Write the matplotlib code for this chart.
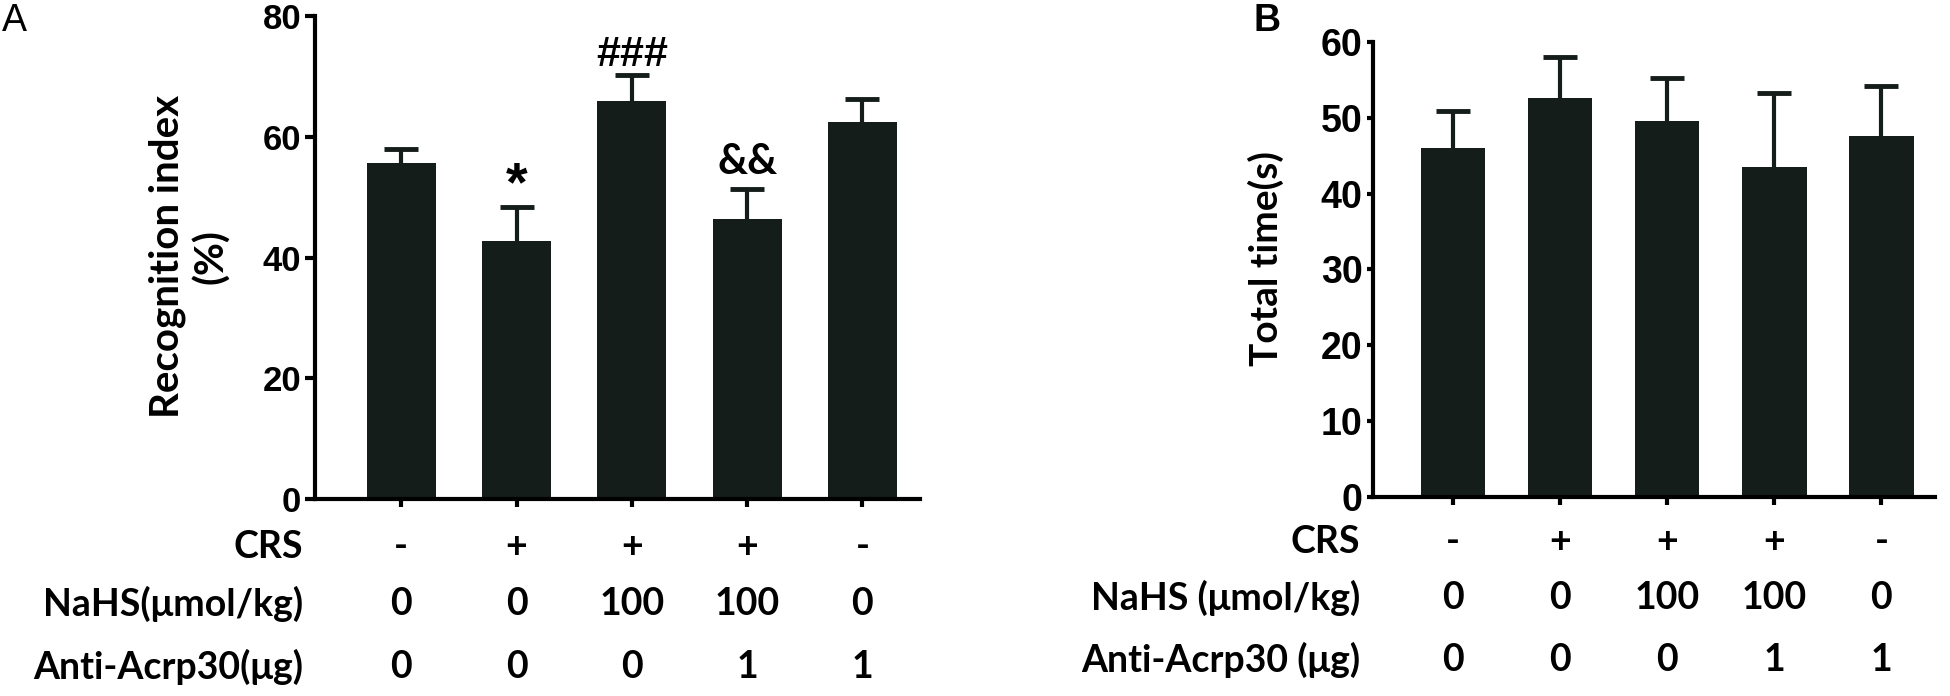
import numpy as np
import matplotlib
matplotlib.use("Agg")
import matplotlib.pyplot as plt
from matplotlib.transforms import blended_transform_factory

# panel A - recognition index
a_mean = [55.7, 42.8, 66.0, 46.3, 62.5]
a_err = [2.2, 5.6, 4.2, 5.0, 3.8]
a_marks = ['', '*', '###', '&&', '']

# panel B - total time
b_mean = [46.0, 52.6, 49.6, 43.5, 47.6]
b_err = [4.9, 5.4, 5.7, 9.8, 6.6]

crs = ['-', '+', '+', '+', '-']
nahs = ['0', '0', '100', '100', '0']
anti = ['0', '0', '0', '1', '1']

bar_color = '#141d19'
tick_font = ['Liberation Sans Narrow', 'Liberation Sans', 'DejaVu Sans']
text_font = ['Lato', 'DejaVu Sans']

fig = plt.figure(figsize=(19.5, 6.96), dpi=100)
axA = fig.add_axes([0.1615, 0.283, 0.4718 - 0.1615, 0.977 - 0.283])
axB = fig.add_axes([0.7041, 0.286, 0.9923 - 0.7041, 0.9397 - 0.286])


def draw_panel(ax, means, errs, ymax, ystep, tick_size, ylen):
    x = np.arange(len(means))
    eb = ax.errorbar(x, means, yerr=[np.zeros(len(errs)), errs], fmt='none',
                     ecolor=bar_color, elinewidth=3, capsize=12, capthick=3.5, zorder=1)
    # only the upper cap, like the original
    eb[1][0].set_visible(False)
    ax.bar(x, means, width=0.6, color=bar_color, zorder=2)
    ax.set_xlim(-0.75, 4.5)
    ax.set_ylim(0, ymax)
    ax.set_yticks(np.arange(0, ymax + 1, ystep))
    for s in ['top', 'right']:
        ax.spines[s].set_visible(False)
    for s in ['left', 'bottom']:
        ax.spines[s].set_linewidth(3)
        ax.spines[s].set_color('black')
    ax.set_xticks(x)
    ax.set_xticklabels([])
    ax.tick_params(axis='x', length=5.5, width=3, direction='out')
    ax.tick_params(axis='y', length=ylen, width=3, pad=3)
    for lab in ax.get_yticklabels():
        lab.set_fontfamily(tick_font)
        lab.set_fontweight('bold')
        lab.set_fontsize(tick_size)


draw_panel(axA, a_mean, a_err, 80, 20, 25, 7)
draw_panel(axB, b_mean, b_err, 60, 10, 27, 4.5)

# significance marks
for i, m in enumerate(a_marks):
    top = a_mean[i] + a_err[i]
    if m == '*':
        axA.text(i, top + 3.4, m, ha='center', va='center', fontsize=40,
                 fontweight='bold', family=tick_font)
    elif m == '###':
        axA.text(i, top + 1.6, m, ha='center', va='baseline', fontsize=31,
                 fontweight='bold', family=tick_font)
    elif m:
        axA.text(i, top + 2.6, m, ha='center', va='baseline', fontsize=30,
                 fontweight='bold', family=text_font)

# y labels
fig.text(0.097, 0.631, 'Recognition index\n(%)', rotation=90, ha='center', va='center',
         multialignment='center', fontsize=29, fontweight='bold', family=text_font,
         linespacing=1.2)
fig.text(0.649, 0.629, 'Total time(s)', rotation=90, ha='center', va='center',
         fontsize=28, fontweight='bold', family=text_font)

# condition rows under each panel
rowsA = [('CRS', crs, 0.214), ('NaHS(\u03bcmol/kg)', nahs, 0.132), ('Anti-Acrp30(\u03bcg)', anti, 0.042)]
rowsB = [('CRS', crs, 0.221), ('NaHS (\u03bcmol/kg)', nahs, 0.141), ('Anti-Acrp30 (\u03bcg)', anti, 0.052)]
for ax, rows, lx in [(axA, rowsA, 0.1554), (axB, rowsB, 0.6974)]:
    tr = blended_transform_factory(ax.transData, fig.transFigure)
    for name, vals, yy in rows:
        fig.text(lx, yy, name, ha='right', va='center', fontsize=27,
                 fontweight='bold', family=text_font)
        for i, v in enumerate(vals):
            ax.text(i, yy, v, transform=tr, ha='center', va='center', fontsize=27,
                    fontweight='bold', family=text_font)

fig.text(0.001, 0.995, 'A', ha='left', va='top', fontsize=27, family=['Liberation Sans', 'DejaVu Sans'])
fig.text(0.643, 0.995, 'B', ha='left', va='top', fontsize=27, fontweight='bold',
         family=['Liberation Sans', 'DejaVu Sans'])

fig.savefig('out.png', dpi=100, facecolor='white')
